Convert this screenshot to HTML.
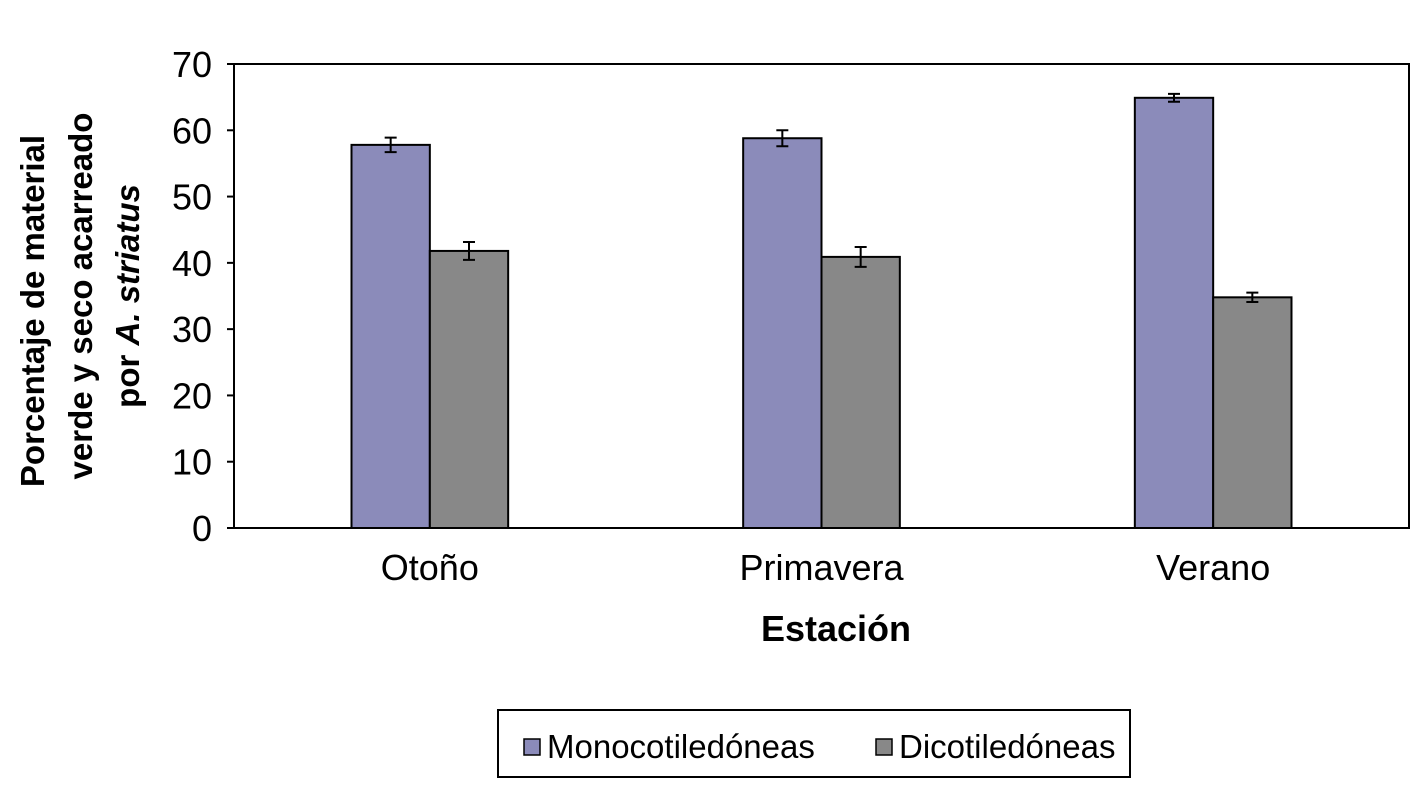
<!DOCTYPE html>
<html><head><meta charset="utf-8"><style>
html,body{margin:0;padding:0;background:#fff;width:1417px;height:789px;overflow:hidden}
svg text{font-family:"Liberation Sans",Arial,sans-serif;fill:#000}
</style></head><body>
<svg id="chart" width="1417" height="789" xmlns="http://www.w3.org/2000/svg">
<rect x="234" y="64" width="1175" height="464" fill="#fff" stroke="#000" stroke-width="2"/>
<g id="yaxis"></g>
<g id="bars"></g>
<g id="xlabels"></g>
<text x="836" y="641" font-size="36" font-weight="bold" text-anchor="middle">Estación</text>
<g font-size="33" font-weight="bold" text-anchor="middle">
<text transform="translate(44,311) rotate(-90)">Porcentaje de material</text>
<text transform="translate(92,296) rotate(-90)">verde  y seco acarreado</text>
<text transform="translate(139,296) rotate(-90)">por <tspan font-style="italic">A. striatus</tspan></text>
</g>
<g>
<rect x="498" y="710" width="632" height="67" fill="#fff" stroke="#000" stroke-width="2"/>
<g>
<rect x="524" y="739" width="16" height="16" fill="#8b8bba" stroke="#000" stroke-width="1.5"/>
<text x="547" y="758" font-size="33">Monocotiledóneas</text></g>
<g>
<rect x="876" y="739" width="16" height="16" fill="#888888" stroke="#000" stroke-width="1.5"/>
<text x="899" y="758" font-size="33">Dicotiledóneas</text></g>
</g>
</svg>
<script>
const categories=["Otoño","Primavera","Verano"];
const mono=[57.8,58.8,64.9];
const dico=[41.8,40.9,34.8];
const monoErr=[1.1,1.2,0.6];
const dicoErr=[1.35,1.5,0.7];
const yTicks=[0,10,20,30,40,50,60,70];
const NS="http://www.w3.org/2000/svg";
const L=234,R=1409,T=64,B=528,YMAX=70;
const y=v=>B-(v/YMAX)*(B-T);
const catW=(R-L)/categories.length;
const cx=i=>L+catW*(i+0.5);
const bw=catW*0.2;
function mk(tag,attrs,parent){const e=document.createElementNS(NS,tag);for(const k in attrs)e.setAttribute(k,attrs[k]);parent.appendChild(e);return e;}
const ya=document.getElementById('yaxis');
yTicks.forEach(t=>{
 const l=mk('line',{x1:L-7,x2:L,y1:y(t),y2:y(t),stroke:'#000','stroke-width':2},ya);
 
 
 const tx=mk('text',{x:L-22,y:y(t)+13,'font-size':36,'text-anchor':'end'},ya);
 tx.textContent=t;
 
 
});
const bg=document.getElementById('bars'),xl=document.getElementById('xlabels');
function bar(x,v,e,fill,name){
 const r=mk('rect',{x:x,y:y(v),width:bw,height:B-y(v),fill:fill,stroke:'#000','stroke-width':2},bg);
 
 
 const m=x+bw/2;
 const g=mk('path',{d:`M${m},${y(v+e)}V${y(v-e)}M${m-6},${y(v+e)}H${m+6}M${m-6},${y(v-e)}H${m+6}`,stroke:'#000','stroke-width':2,fill:'none'},bg);
 
 
}
categories.forEach((c,i)=>{
 bar(cx(i)-bw,mono[i],monoErr[i],'#8b8bba','bar-mono-'+i);
 bar(cx(i),dico[i],dicoErr[i],'#888888','bar-dico-'+i);
 const t=mk('text',{x:cx(i),y:580,'font-size':36,'text-anchor':'middle'},xl);
 t.textContent=c;
 
 
});
</script>
</body></html>
